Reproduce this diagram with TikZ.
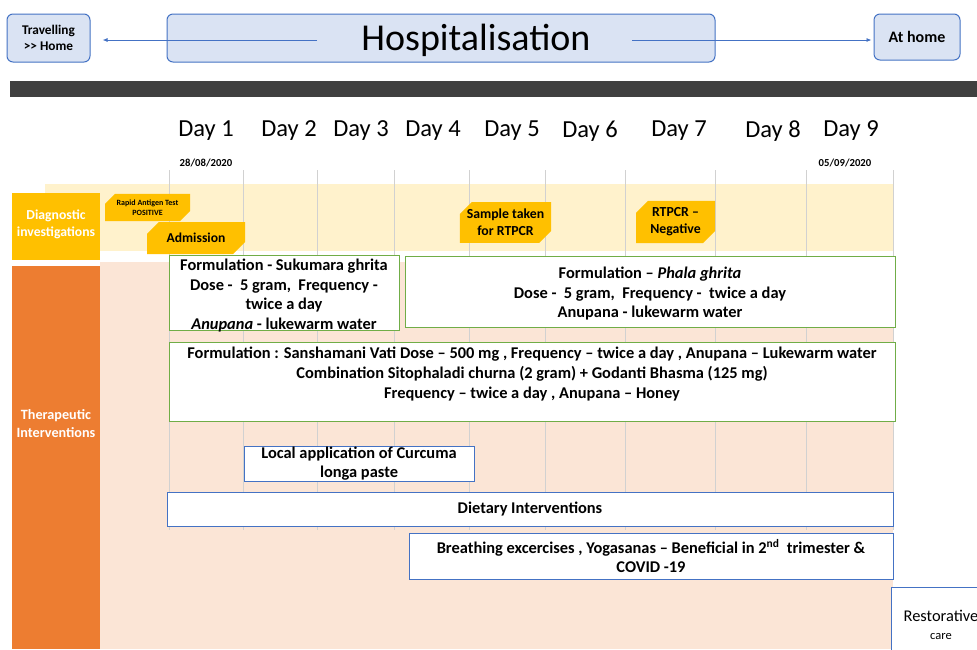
\documentclass[tikz,border=0pt]{standalone}
\usepackage{fontspec}
\setmainfont{Carlito}
\usetikzlibrary{shapes.misc,arrows.meta}

\definecolor{hospfill}{HTML}{DAE3F3}
\definecolor{hospedge}{HTML}{4472C4}
\definecolor{darkbar}{HTML}{404040}
\definecolor{diagband}{HTML}{FFF2CC}
\definecolor{diaggold}{HTML}{FFC000}
\definecolor{therorange}{HTML}{ED7D31}
\definecolor{therband}{HTML}{FBE5D6}
\definecolor{formgreen}{HTML}{70AD47}

\tikzset{
  topbox/.style={draw=hospedge, fill=hospfill, rounded corners=6pt, line width=1pt,
    align=center, inner sep=0pt, font=\bfseries\fontsize{13.3}{16}\selectfont},
  sidelabel/.style={align=center, inner sep=0pt, text=white,
    font=\bfseries\fontsize{14}{17}\selectfont},
  tag/.style={chamfered rectangle, chamfered rectangle corners={north west,south east},
    chamfered rectangle xsep=6pt, chamfered rectangle ysep=6pt,
    fill=diaggold, align=center, inner sep=1pt, font=\bfseries\fontsize{13.6}{16}\selectfont},
  formbox/.style={draw=formgreen, fill=white, line width=0.9pt, align=center, inner sep=0pt,
    font=\bfseries\fontsize{16.4}{19.5}\selectfont},
  formtext/.style={align=center, inner sep=0pt, font=\bfseries\fontsize{16.4}{19.5}\selectfont},
  carebox/.style={draw=hospedge, fill=white, line width=0.9pt, align=center, inner sep=0pt,
    font=\bfseries\fontsize{16.4}{19}\selectfont},
  gridline/.style={black!18, line width=0.6pt},
  hosparrow/.style={hospedge, line width=0.8pt, -{Latex[length=5pt,width=4pt]}}
}

\begin{document}
\begin{tikzpicture}[x=1pt,y=-1pt]
    \useasboundingbox (0,0) rectangle (977,649);

    % header
    \node[topbox, minimum width=83, minimum height=48] (travel) at (48.5,38) {Travelling\\{>}{>} Home};
    \node[topbox, minimum width=548, minimum height=48] (hosp) at (441,38) {};
    \node[font=\fontsize{38}{40}\selectfont] (hosptitle) at (476,40) {Hospitalisation};
    \node[topbox, minimum width=86, minimum height=46, font=\bfseries\fontsize{16}{18}\selectfont] (athome) at (917,37) {At home};
    \coordinate (hospleft) at (317,40);
    \coordinate (hospright) at (632,40);
    \draw[hosparrow, shorten >=12pt] (hospleft) -- (travel.east |- hospleft);
    \draw[hosparrow, shorten >=2pt] (hospright) -- (athome.west |- hospright);

    \fill[darkbar] (10,81) rectangle (977,97);

    % days
    \foreach \x/\d in {206/1,289/2,361/3,433/4,512/5,590/6,679/7,773/8,851/9}
     \node[font=\fontsize{24.5}{26}\selectfont] (day\d) at (\x,131) {Day \d};
    \node[font=\bfseries\fontsize{10.7}{12}\selectfont] (start) at (206,162.5) {28/08/2020};
    \node[font=\bfseries\fontsize{10.7}{12}\selectfont] (end) at (845,162.5) {05/09/2020};

    % bands
    \fill[diagband] (45,184) rectangle (893,251);
    \fill[therband] (100,262) rectangle (893,649);
    \fill[diaggold] (12,193) rectangle (100,260);
    \node[sidelabel, font=\bfseries\fontsize{13.7}{17}\selectfont] (diag) at (56,224.5) {Diagnostic\\investigations};
    \fill[therorange] (12,266) rectangle (100,649);
    \node[sidelabel, font=\bfseries\fontsize{14.2}{18}\selectfont] (thera) at (56,424) {Therapeutic\\Interventions};

    \foreach \x in {169,243,317,394,469,545,625,715,806,893}
     \draw[gridline] (\x,170) -- (\x,530);

    % diagnostic tags
    \node[tag, minimum width=85, minimum height=27, chamfered rectangle xsep=5pt, chamfered rectangle ysep=5pt,
      font=\bfseries\fontsize{8}{9.5}\selectfont] (antigen) at (147.5,207.5) {Rapid Antigen Test\\POSITIVE};
    \node[tag, minimum width=98, minimum height=32] (admit) at (196,238) {Admission};
    \node[tag, minimum width=79, minimum height=39, font=\bfseries\fontsize{13.8}{17}\selectfont] (sample) at (505.5,222.5) {Sample taken\\for RTPCR};
    \node[tag, minimum width=79, minimum height=39, font=\bfseries\fontsize{13.8}{17}\selectfont] (rtpcr) at (675.5,222) {RTPCR --\\Negative};

    % therapeutic boxes
    \node[formbox, minimum width=230, minimum height=75] (sukumara) at (284,292.5) {};
    \node[formtext] (sukumaratext) at (284,295.5)
      {Formulation - Sukumara ghrita\\Dose -\ \ 5 gram,\ \ Frequency -\\twice a day\\\textit{Anupana} - lukewarm water};
    \node[formbox, minimum width=490, minimum height=71] (phala) at (650,291.5) {};
    \node[formtext] (phalatext) at (650,294)
      {Formulation -- \textit{Phala ghrita}\\Dose -\ \ 5 gram,\ \ Frequency -\ \ twice a day\\Anupana - lukewarm water};
    \node[formbox, minimum width=726, minimum height=79] (vati) at (532,381.5) {};
    \node[formtext, anchor=north, font=\bfseries\fontsize{16.4}{20}\selectfont] (vatitext) at ([yshift=-5.5pt]vati.north)
      {Formulation : Sanshamani Vati Dose -- 500 mg , Frequency -- twice a day , Anupana -- Lukewarm water\\
       Combination Sitophaladi churna (2 gram) + Godanti Bhasma (125 mg)\\
       Frequency -- twice a day , Anupana -- Honey};
    \node[carebox, minimum width=230, minimum height=35] (curcuma) at (359,463.5) {Local application of Curcuma\\longa paste};
    \node[carebox, minimum width=726, minimum height=34] (diet) at (530,509) {Dietary Interventions};
    \node[carebox, minimum width=484, minimum height=46] (breath) at (651,556)
      {Breathing excercises , Yogasanas -- Beneficial in 2\textsuperscript{nd}\ \ trimester \&\\COVID -19};
    \node[carebox, minimum width=100, minimum height=75, font=\fontsize{16.4}{18}\selectfont] (restore) at (941,624.5)
      {Restorative\\{\fontsize{12.5}{14}\selectfont care}};
\end{tikzpicture}
\end{document}
